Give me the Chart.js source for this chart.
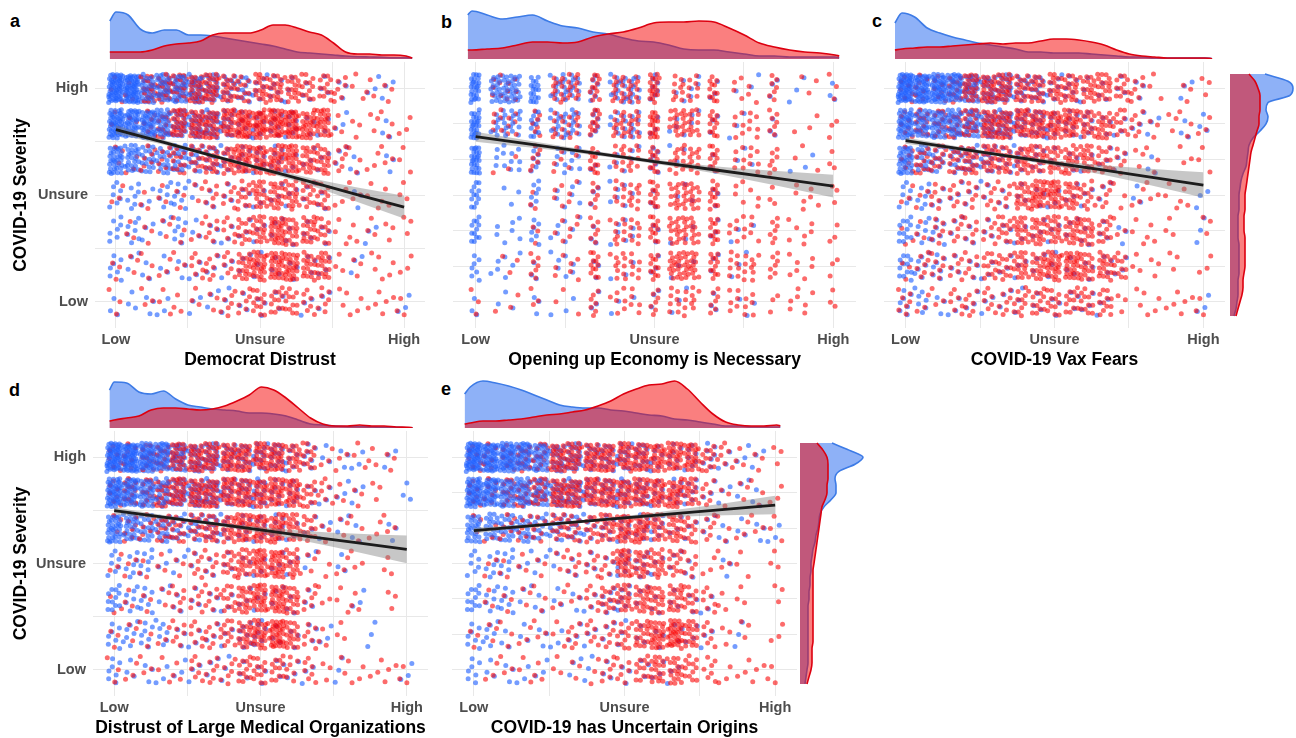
<!DOCTYPE html>
<html>
<head>
<meta charset="utf-8">
<script src="https://cdn.jsdelivr.net/npm/chart.js@4.4.1/dist/chart.umd.min.js"></script>
<style>
  body { margin: 0; width: 1296px; height: 738px; position: relative; overflow: hidden; background: #fff;
         font-family: 'Liberation Sans', Arial, sans-serif; }
  canvas { position: absolute; }
  .tag { position: absolute; font-weight: bold; font-size: 18px; line-height: 18px; color: #000; }
</style>
</head>
<body>
<div class="tag" style="left:10px;top:12px">a</div>
<div class="tag" style="left:441px;top:13px">b</div>
<div class="tag" style="left:872px;top:12px">c</div>
<div class="tag" style="left:9px;top:381px">d</div>
<div class="tag" style="left:441px;top:380px">e</div>
<script>
// ---- data ----
const SEVERITY_LEVELS = [7, 6, 5, 4, 3, 2, 1];          // rows, High -> Low
const SCALE_TICKS = { 1: 'Low', 4: 'Unsure', 7: 'High' };
const X_THIRDS = [1, 1.333, 1.667, 2, 2.333, 2.667, 3, 3.333, 3.667, 4, 4.333, 4.667, 5, 5.333, 5.667, 6, 6.333, 6.667, 7];
const X_HALVES = [1, 1.5, 2, 2.5, 3, 3.5, 4, 4.5, 5, 5.5, 6, 6.5, 7];
// respondents represented by each density digit 0..9 used in the cell tables
const DIGIT_COUNTS = [0, 3, 7, 12, 18, 25, 32, 40, 48, 56];

// density digit per cell (one digit per x column), rows High -> Low
const BLUE_A = ['9966654332211110110', '8776444322221110010', '6544433222211111010', '2212211111111101000',
                '2211211111111100100', '2111111111111101000', '1111011111101100001'];
const RED_A  = ['1144455434443321110', '1123555566665511111', '1122334455554421111', '1011112234443311111',
                '0111112234544311111', '1111122245554411111', '1011111223332211111'];
const BLUE_B = ['5845252211111', '5535241211100', '5323122111010', '3122121110000',
                '3222121111000', '2212111111000', '1111111111000'];
const RED_B  = ['0305354432211', '0324354633211', '0122343533211', '0012243632121',
                '0012243633221', '0122343734221', '1111232423121'];
const BLUE_C = ['9887544332211110010', '7666544332221111011', '6433332221111101000', '2211111111111010001',
                '3221111111111100001', '3221111111111100000', '2211111111111000001'];
const RED_C  = ['2223555444444321011', '2333455555544321111', '2333444444443211011', '1122222455432111110',
                '1122223444443111101', '1222233445544311101', '2112222333333111111'];
const BLUE_D = ['9987544333322111010', '8765444333221111001', '6544333222211111010', '2221111111111010000',
                '3221111111111001000', '2222111122111100100', '2111111111111010001'];
const RED_D  = ['2233555555543111110', '2334555555553211100', '1223334455543111110', '1111122345541111010',
                '1111222345542111010', '1111222345642110000', '1111122233322111111'];
const BLUE_E = ['9887644333322221110', '8766544333322211110', '5444333222221111111', '2221111112211101000',
                '3221111122111110000', '2211111111111110100', '2111101111111000000'];
const RED_E  = ['2223355555555532111', '2233455555555421111', '1122233345544321111', '0111112225443211101',
                '0111111234444321101', '1111112223456421101', '0111111122344321111'];

// top marginal densities (relative), sampled at [start, ...DENS_X, end]
const DENS_X = [1, 1.25, 1.5, 1.75, 2, 2.25, 2.5, 2.75, 3, 3.25, 3.5, 3.75, 4, 4.25, 4.5, 4.75, 5, 5.25, 5.5, 5.75, 6, 6.25, 6.5, 6.75, 7];
const DENS_ENDS_A = [0.87, 7.13];
const DENS_BLUE_A = [38, 47, 44, 30, 26, 29, 29, 24, 24, 23, 21, 19, 17, 15, 13, 10, 7, 6, 5, 4, 3, 2.3, 2, 1.7, 1.3, 1.3, 1];
const DENS_RED_A  = [7, 7, 7, 7, 9, 13, 15, 16, 18, 24, 26, 26, 26, 29, 34, 34, 31, 27, 24, 16, 7, 5, 5, 4, 4, 3, 1];
const DENS_ENDS_B = [0.93, 7.07];
const DENS_BLUE_B = [44, 48, 44, 40, 42, 44, 38, 33, 31, 27, 25, 21, 18, 17, 14, 10, 9, 9, 7, 5, 3, 3, 2, 2, 2, 2, 1];
const DENS_RED_B  = [9, 9, 10, 11, 14, 17, 17, 16, 17, 22, 25, 27, 31, 36, 37, 37, 38, 37, 31, 24, 16, 12, 9, 7, 6, 4, 3];
const DENS_ENDS_C = [0.86, 7.14];
const DENS_BLUE_C = [36, 46, 42, 31, 26, 22, 19, 16, 14, 12, 10, 7, 7, 6, 6, 6, 5, 4, 3, 2, 2, 1, 1, 1, 1, 1, 0.3];
const DENS_RED_C  = [9, 10, 11, 12, 12, 13, 14, 15, 16, 15, 16, 16, 18, 20, 20, 19, 17, 14, 9, 5, 3, 2, 1, 1, 1, 1, 0.3];
const DENS_ENDS_D = [0.9, 7.08];
const DENS_BLUE_D = [38, 46, 45, 36, 34, 37, 29, 23, 21, 19, 18, 17, 15, 15, 14, 12, 8, 4, 3, 2, 1.3, 1.3, 1, 0.7, 0.7, 0.3, 0.3];
const DENS_RED_D  = [7, 8, 10, 12, 18, 20, 20, 19, 18, 19, 22, 27, 33, 41, 38, 30, 20, 10, 4, 2, 2, 3, 2, 2, 1, 0.7, 0.3];
const DENS_ENDS_E = [0.89, 7.07];
const DENS_BLUE_E = [34, 41, 47, 45, 42, 38, 33, 28, 23, 21, 20, 20, 18, 17, 15, 13, 12, 9, 8, 6, 4, 2, 2, 1, 1, 1, 1];
const DENS_RED_E  = [4, 5, 7, 7, 8, 9, 11, 13, 14, 16, 18, 22, 27, 34, 39, 43, 44, 47, 39, 26, 14, 6, 3, 2, 2, 3, 2];

// right marginal densities of COVID-19 Severity (relative), Low -> High
const SIDE_Y = [0.6, 0.8, 1, 1.2, 1.4, 1.6, 1.8, 2, 2.2, 2.4, 2.6, 2.8, 3, 3.2, 3.4, 3.6, 3.8, 4,
                4.2, 4.4, 4.6, 4.8, 5, 5.2, 5.4, 5.6, 5.8, 6, 6.2, 6.4, 6.6, 6.8, 7, 7.2, 7.4];
const SIDE_BLUE_C = [4, 6, 7, 8, 8, 8, 9, 9, 9, 9, 9, 8, 8, 8, 8, 9, 9, 9, 10, 11, 13, 16, 17, 18, 19, 23, 30, 36, 38, 36, 38, 60, 63, 58, 35];
const SIDE_RED_C  = [6, 8, 10, 12, 13, 13, 14, 15, 15, 15, 15, 15, 14, 14, 14, 15, 15, 15, 16, 17, 18, 19, 20, 21, 23, 25, 27, 29, 29, 30, 30, 30, 28, 25, 19];
const SIDE_BLUE_E = [5, 6, 7, 8, 8, 8, 8, 8, 8, 8, 8, 8, 9, 9, 10, 10, 11, 11, 12, 13, 15, 16, 18, 19, 20, 24, 31, 36, 36, 35, 39, 55, 63, 49, 32];
const SIDE_RED_E  = [7, 9, 11, 12, 12, 12, 13, 13, 13, 13, 13, 13, 13, 13, 13, 13, 13, 14, 15, 16, 17, 18, 19, 20, 21, 22, 25, 27, 27, 28, 28, 28, 27, 23, 17];

// linear fits with confidence band
const FIT_X = [1, 2, 3, 4, 5, 6, 7];
const FIT_A = [5.84, 5.48, 5.11, 4.75, 4.39, 4.02, 3.66];
const LO_A  = [5.72, 5.41, 5.06, 4.69, 4.29, 3.82, 3.34];
const HI_A  = [5.96, 5.55, 5.16, 4.81, 4.49, 4.22, 3.98];
const FIT_B = [5.64, 5.41, 5.18, 4.94, 4.71, 4.48, 4.25];
const LO_B  = [5.50, 5.32, 5.12, 4.88, 4.61, 4.28, 3.93];
const HI_B  = [5.78, 5.50, 5.24, 5.00, 4.81, 4.68, 4.57];
const FIT_C = [5.53, 5.32, 5.11, 4.90, 4.70, 4.49, 4.28];
const LO_C  = [5.44, 5.26, 5.06, 4.82, 4.56, 4.25, 3.92];
const HI_C  = [5.62, 5.38, 5.16, 4.98, 4.84, 4.73, 4.64];
const FIT_D = [5.49, 5.31, 5.13, 4.95, 4.76, 4.58, 4.40];
const LO_D  = [5.39, 5.25, 5.08, 4.87, 4.61, 4.32, 4.01];
const HI_D  = [5.59, 5.37, 5.18, 5.03, 4.91, 4.84, 4.79];
const FIT_E = [4.93, 5.05, 5.17, 5.29, 5.41, 5.53, 5.65];
const LO_E  = [4.85, 5.00, 5.13, 5.24, 5.31, 5.36, 5.39];
const HI_E  = [5.01, 5.10, 5.21, 5.34, 5.51, 5.70, 5.91];

// ---- styling ----
Chart.defaults.font.family = "'Liberation Sans', Arial, sans-serif";
const BLUE_PT = 'rgba(31,95,255,0.62)';
const RED_PT = 'rgba(250,0,0,0.58)';
const BLUE_FILL = 'rgba(30,100,240,0.5)';
const RED_FILL = 'rgba(245,0,0,0.5)';
const BLUE_LINE = '#3d7be6';
const RED_LINE = '#dd0010';
const GRID = '#e8e8e8';
const Y_RANGE = [0.26, 7.74];

const halfThirds = X_THIRDS.map(() => 0.15);
const halfHalves = X_HALVES.map(v => (Number.isInteger(v) ? 0.08 : 0.25));

const panels = [
  { title: 'Democrat Distrust', cols: X_THIRDS, half: halfThirds, blue: BLUE_A, red: RED_A,
    fit: FIT_A, lo: LO_A, hi: HI_A, dEnds: DENS_ENDS_A, dBlue: DENS_BLUE_A, dRed: DENS_RED_A,
    area: [95, 62, 427, 328], xr: [0.565, 7.435], yTitle: true, yGrid: [1, 2.5, 4, 5.5, 7] },
  { title: 'Opening up Economy is Necessary', cols: X_HALVES, half: halfHalves, blue: BLUE_B, red: RED_B,
    fit: FIT_B, lo: LO_B, hi: HI_B, dEnds: DENS_ENDS_B, dBlue: DENS_BLUE_B, dRed: DENS_RED_B,
    area: [449, 62, 858, 328], xr: [0.62, 7.38], yTitle: false, yGrid: [1, 2, 3, 4, 5, 6, 7] },
  { title: 'COVID-19 Vax Fears', cols: X_THIRDS, half: halfThirds, blue: BLUE_C, red: RED_C,
    fit: FIT_C, lo: LO_C, hi: HI_C, dEnds: DENS_ENDS_C, dBlue: DENS_BLUE_C, dRed: DENS_RED_C,
    area: [880, 62, 1227, 328], xr: [0.565, 7.435], yTitle: false, yGrid: [1, 2, 3, 4, 5, 6, 7],
    side: { left: 1230, blue: SIDE_BLUE_C, red: SIDE_RED_C } },
  { title: 'Distrust of Large Medical Organizations', cols: X_THIRDS, half: halfThirds, blue: BLUE_D, red: RED_D,
    fit: FIT_D, lo: LO_D, hi: HI_D, dEnds: DENS_ENDS_D, dBlue: DENS_BLUE_D, dRed: DENS_RED_D,
    area: [93, 431, 430, 696], xr: [0.565, 7.435], yTitle: true, yGrid: [1, 2.5, 4, 5.5, 7] },
  { title: 'COVID-19 has Uncertain Origins', cols: X_THIRDS, half: halfThirds, blue: BLUE_E, red: RED_E,
    fit: FIT_E, lo: LO_E, hi: HI_E, dEnds: DENS_ENDS_E, dBlue: DENS_BLUE_E, dRed: DENS_RED_E,
    area: [448, 431, 799, 696], xr: [0.565, 7.435], yTitle: false, yGrid: [1, 2, 3, 4, 5, 6, 7],
    side: { left: 800, blue: SIDE_BLUE_E, red: SIDE_RED_E } }
];

function makeCanvas(left, top, w, h) {
  const c = document.createElement('canvas');
  c.width = Math.round(w);
  c.height = Math.round(h);
  c.style.left = Math.round(left) + 'px';
  c.style.top = Math.round(top) + 'px';
  document.body.appendChild(c);
  return c.getContext('2d');
}

// jittered positions: a fixed low-discrepancy layout inside each cell
const frac = v => v - Math.floor(v);
function cloud(p) {
  const pts = [], colors = [];
  SEVERITY_LEVELS.forEach((lvl, r) => {
    p.cols.forEach((xv, c) => {
      const nb = DIGIT_COUNTS[Number(p.blue[r][c])];
      const nr = DIGIT_COUNTS[Number(p.red[r][c])];
      const shift = frac((r * 31 + c) * 0.1377);
      const add = (i, col) => {
        pts.push({
          x: xv + (frac(shift + i * 0.7548776662) - 0.5) * 2 * p.half[c],
          y: lvl + (frac(shift * 1.7 + i * 0.5698402910) - 0.5) * 0.8
        });
        colors.push(col);
      };
      for (let k = 0; k < Math.max(nb, nr); k++) {
        if (k < nr) add(k + 700, RED_PT);
        if (k < nb) add(k, BLUE_PT);
      }
    });
  });
  return { pts, colors };
}

const base = { responsive: false, animation: false, events: [],
               plugins: { legend: { display: false }, tooltip: { enabled: false } } };

function drawScatter(p) {
  const [l, t, r, b] = p.area;
  const left = p.yTitle ? 0 : l;
  const top = t - 16;
  const ctx = makeCanvas(left, top, r - left + 2, b - top + 43);
  const cl = cloud(p);
  const xy = ys => FIT_X.map((x, i) => ({ x, y: ys[i] }));
  new Chart(ctx, {
    type: 'scatter',
    data: {
      datasets: [
        { data: xy(p.fit), showLine: true, borderColor: '#1c1c1c', borderWidth: 2.8, pointRadius: 0 },
        { data: xy(p.hi), showLine: true, borderColor: 'rgba(0,0,0,0)', borderWidth: 1, pointRadius: 0,
          fill: '+1', backgroundColor: 'rgba(130,130,130,0.45)', tension: 0.4, cubicInterpolationMode: 'monotone' },
        { data: xy(p.lo), showLine: true, borderColor: 'rgba(0,0,0,0)', borderWidth: 1, pointRadius: 0,
          fill: false, tension: 0.4, cubicInterpolationMode: 'monotone' },
        { data: cl.pts, showLine: false, pointRadius: 2.5, pointBorderWidth: 0, pointBackgroundColor: cl.colors }
      ]
    },
    options: {
      ...base,
      layout: { padding: { left: p.yTitle ? 11 : 0, top: 16, right: 2, bottom: 0 } },
      scales: {
        x: {
          type: 'linear', min: p.xr[0], max: p.xr[1],
          afterBuildTicks: s => { s.ticks = [1, 2.5, 4, 5.5, 7].map(value => ({ value })); },
          afterFit: s => { s.height = 43; },
          ticks: { callback: v => SCALE_TICKS[v] || '', font: { size: 14.5, weight: 'bold' }, color: '#4d4d4d',
                   padding: 3, maxRotation: 0, autoSkip: false },
          grid: { color: GRID, drawTicks: false },
          border: { display: false },
          title: { display: true, text: p.title, font: { size: 17.5, weight: 'bold' }, color: '#000', padding: 0 }
        },
        y: {
          type: 'linear', min: Y_RANGE[0], max: Y_RANGE[1],
          afterBuildTicks: s => { s.ticks = p.yGrid.map(value => ({ value })); },
          afterFit: s => { s.width = p.yTitle ? l - 11 : 0; },
          ticks: { display: p.yTitle, callback: v => SCALE_TICKS[v] || '', font: { size: 14.5, weight: 'bold' },
                   color: '#4d4d4d', padding: 7, autoSkip: false },
          grid: { color: GRID, drawTicks: false },
          border: { display: false },
          title: { display: p.yTitle, text: 'COVID-19 Severity', font: { size: 17.5, weight: 'bold' }, color: '#000', padding: 0 }
        }
      }
    }
  });
}

function densitySet(points, line, fill) {
  return { data: points, borderColor: line, backgroundColor: fill, borderWidth: 1.6, pointRadius: 0,
           fill: 'origin', tension: 0.4, cubicInterpolationMode: 'monotone' };
}

function drawTopDensity(p) {
  const [l, t, r] = p.area;
  const ctx = makeCanvas(l, t - 57, r - l, 54);
  const xs = [p.dEnds[0], ...DENS_X, p.dEnds[1]];
  new Chart(ctx, {
    type: 'line',
    data: { datasets: [
      densitySet(xs.map((x, i) => ({ x, y: p.dRed[i] })), RED_LINE, RED_FILL),
      densitySet(xs.map((x, i) => ({ x, y: p.dBlue[i] })), BLUE_LINE, BLUE_FILL)
    ] },
    options: { ...base, layout: { padding: 0 },
      scales: { x: { type: 'linear', min: p.xr[0], max: p.xr[1], display: false },
                y: { type: 'linear', min: 0, max: 54, display: false } } }
  });
}

function drawSideDensity(p) {
  const [, t, , b] = p.area;
  const ctx = makeCanvas(p.side.left, t, 66, b - t);
  new Chart(ctx, {
    type: 'line',
    data: { datasets: [
      densitySet(SIDE_Y.map((y, i) => ({ x: p.side.red[i], y })), RED_LINE, RED_FILL),
      densitySet(SIDE_Y.map((y, i) => ({ x: p.side.blue[i], y })), BLUE_LINE, BLUE_FILL)
    ] },
    options: { ...base, indexAxis: 'y', layout: { padding: 0 },
      scales: { x: { type: 'linear', min: 0, max: 66, display: false },
                y: { type: 'linear', min: Y_RANGE[0], max: Y_RANGE[1], display: false } } }
  });
}

panels.forEach(p => {
  drawScatter(p);
  drawTopDensity(p);
  if (p.side) drawSideDensity(p);
});
</script>
</body>
</html>
